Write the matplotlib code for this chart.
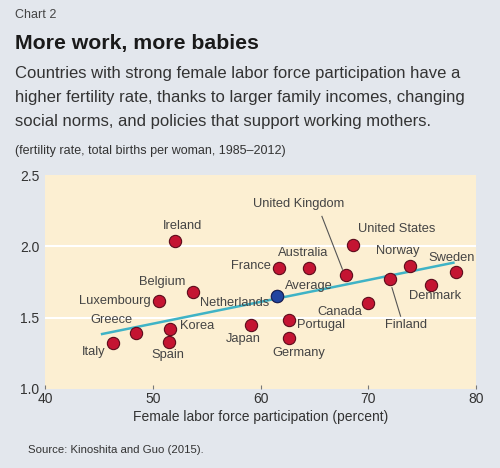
import matplotlib.pyplot as plt
import numpy as np

countries = ["Ireland", "Belgium", "Luxembourg", "Greece", "Korea", "Spain", "Italy",
             "Netherlands", "Japan", "France", "Australia", "United Kingdom",
             "United States", "Norway", "Sweden", "Denmark", "Finland", "Canada",
             "Portugal", "Germany"]
participation = [52.1, 53.7, 50.6, 48.4, 51.6, 51.5, 46.3,
                 61.5, 59.1, 61.7, 64.5, 67.9,
                 68.6, 73.9, 78.1, 75.8, 72.0, 70.0,
                 62.6, 62.6]
fertility = [2.04, 1.68, 1.62, 1.39, 1.42, 1.33, 1.32,
             1.655, 1.45, 1.85, 1.85, 1.80,
             2.01, 1.86, 1.82, 1.73, 1.77, 1.60,
             1.48, 1.36]
avg_x, avg_y = 61.55, 1.65
trend_x = [45.3, 77.9]
trend_y = [1.385, 1.885]

# label position (x, y, ha)
label_pos = {
    "Ireland": (52.8, 2.14, "center"),
    "Belgium": (53.0, 1.75, "right"),
    "Luxembourg": (49.8, 1.62, "right"),
    "Greece": (46.2, 1.48, "center"),
    "Korea": (52.5, 1.44, "left"),
    "Spain": (51.4, 1.24, "center"),
    "Italy": (44.5, 1.26, "center"),
    "Netherlands": (57.6, 1.60, "center"),
    "Japan": (58.4, 1.35, "center"),
    "France": (61.0, 1.86, "right"),
    "Australia": (64.0, 1.955, "center"),
    "United Kingdom": (63.5, 2.30, "center"),
    "United States": (72.6, 2.125, "center"),
    "Norway": (72.7, 1.97, "center"),
    "Sweden": (77.7, 1.92, "center"),
    "Denmark": (76.2, 1.65, "center"),
    "Finland": (73.5, 1.45, "center"),
    "Canada": (67.4, 1.54, "center"),
    "Portugal": (63.4, 1.45, "left"),
    "Germany": (63.6, 1.255, "center"),
}
leaders = {
    "United Kingdom": ((65.7, 2.21), (67.6, 1.84)),
    "Finland": ((72.2, 1.71), (73.0, 1.51)),
}

plt.rcParams['font.family'] = ['Liberation Sans', 'DejaVu Sans']
bg = "#e3e7ed"
fig = plt.figure(figsize=(5, 4.68), dpi=100, facecolor=bg)
ax = fig.add_axes([0.09, 0.169, 0.862, 0.457])
ax.set_facecolor("#fcefd2")
ax.set_xlim(40, 80)
ax.set_ylim(1.0, 2.5)
for g in [1.5, 2.0]:
    ax.axhline(g, color="white", lw=1.5, zorder=1)
for s in ax.spines.values():
    s.set_visible(False)

ax.plot(trend_x, trend_y, color="#3fb3c6", lw=1.8, zorder=2)
ax.scatter(participation, fertility, s=78, color="#c41432", edgecolor="#5c0c1c",
           linewidth=0.8, zorder=3)
ax.scatter([avg_x], [avg_y], s=78, color="#2244a0", edgecolor="#15275c",
           linewidth=0.8, zorder=4)

lab_color = "#444444"
for c in countries:
    lx, ly, ha = label_pos[c]
    ax.text(lx, ly, c, ha=ha, va="center", fontsize=9.3, color=lab_color, zorder=5)
ax.text(62.3, 1.725, "Average", ha="left", va="center", fontsize=9.3,
        color=lab_color, zorder=5)
for c, (p0, p1) in leaders.items():
    ax.plot([p0[0], p1[0]], [p0[1], p1[1]], color="#555555", lw=0.8, zorder=2)

ax.set_xticks([40, 50, 60, 70, 80])
ax.set_yticks([1.0, 1.5, 2.0, 2.5])
ax.set_yticklabels(["1.0", "1.5", "2.0", "2.5"])
ax.tick_params(axis="x", direction="in", length=3, color="#777777",
               labelsize=10, labelcolor="#333333", pad=2)
ax.tick_params(axis="y", length=0, labelsize=10, labelcolor="#333333", pad=4)
ax.set_xlabel("Female labor force participation (percent)", fontsize=10,
              color="#333333", labelpad=3)

fig.text(0.03, 0.967, "Chart 2", fontsize=9, color="#444444", va="center")
fig.text(0.03, 0.908, "More work, more babies", fontsize=15.3, weight="bold",
         color="#1a1a1a", va="center")
sub = ("Countries with strong female labor force participation have a\n"
       "higher fertility rate, thanks to larger family incomes, changing\n"
       "social norms, and policies that support working mothers.")
fig.text(0.03, 0.791, sub, fontsize=12, color="#333333", va="center",
         linespacing=1.75)
fig.text(0.03, 0.677, "(fertility rate, total births per woman, 1985\u20132012)",
         fontsize=9, color="#333333", va="center")
fig.text(0.057, 0.039, "Source: Kinoshita and Guo (2015).", fontsize=8.2,
         color="#333333", va="center")

fig.savefig("out.png", dpi=100, facecolor=bg)
